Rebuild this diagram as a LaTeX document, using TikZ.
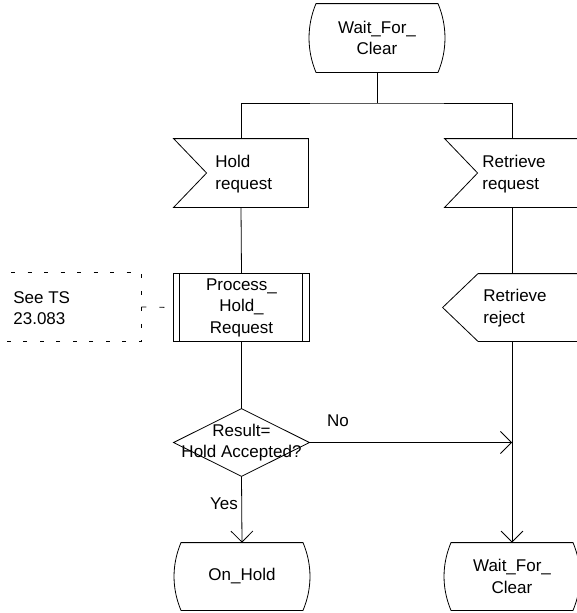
\documentclass[tikz,border=0pt]{standalone}
\usepackage{fontspec}
\setmainfont{Liberation Sans}
\usetikzlibrary{arrows.meta,calc}

% SDL state symbol: flat top and bottom, bulging sides
\newcommand\sdlstate[1]{%
  \draw ($(#1.north)+(-61,0)$) -- ($(#1.north)+(61,0)$)
    .. controls ($(#1.north)+(70.3,22)$) and ($(#1.south)+(70.3,-22)$) .. ($(#1.south)+(61,0)$)
    -- ($(#1.south)+(-61,0)$)
    .. controls ($(#1.south)+(-70.3,-22)$) and ($(#1.north)+(-70.3,22)$) .. ($(#1.north)+(-61,0)$) -- cycle;}

\begin{document}
\begin{tikzpicture}[x=1pt,y=-1pt,
  line width=0.8pt,
  txt/.style={font=\fontsize{17}{21.5}\selectfont, align=center, inner sep=0pt},
  ltxt/.style={font=\fontsize{17}{21.5}\selectfont, align=left, inner sep=0pt, anchor=west},
  frame/.style={draw=none, inner sep=0pt, minimum width=#1, minimum height=67pt},
  flow/.style={-{Straight Barb[length=11pt,width=22pt]}},
  note/.style={dash pattern=on 4pt off 12.5pt}]
\useasboundingbox (0,0) rectangle (577,613);

% states
\node[frame=136, minimum height=68pt, txt] (waitA) at (377,38) {Wait\_For\_\\Clear};
\sdlstate{waitA}
\node[frame=136, txt] (onhold) at (242,576.5) {On\_Hold};
\sdlstate{onhold}
\node[frame=136, txt] (waitB) at (512,576.5) {Wait\_For\_\\Clear};
\sdlstate{waitB}

% input signals
\node[frame=134, minimum height=68pt] (hold) at (241,173) {};
\draw (hold.north west) -- (hold.north east) -- (hold.south east) -- (hold.south west)
  -- ($(hold.west)+(33,0)$) -- cycle;
\node[ltxt] (holdtxt) at (215,174) {Hold\\request};

\node[frame=134, minimum height=68pt] (retr) at (512,173) {};
\draw (retr.north west) -- (retr.north east) -- (retr.south east) -- (retr.south west)
  -- ($(retr.west)+(33,0)$) -- cycle;
\node[ltxt] (retrtxt) at (482,174) {Retrieve\\request};

% output signal
\node[frame=138] (rej) at (512,307.5) {};
\draw (rej.west) -- ($(rej.north)+(-34,0)$) -- (rej.north east) -- (rej.south east)
  -- ($(rej.south)+(-34,0)$) -- cycle;
\node[ltxt] (rejtxt) at (483,308) {Retrieve\\reject};

% procedure call
\node[frame=135, txt] (proc) at (241.5,307.5) {Process\_\\Hold\_\\Request};
\draw (proc.north west) rectangle (proc.south east);
\draw ($(proc.north west)+(6,0)$) -- ($(proc.south west)+(6,0)$);
\draw ($(proc.north east)+(-7,0)$) -- ($(proc.south east)+(-7,0)$);

% comment
\node[frame=146, minimum height=68pt] (cmt) at (68,307) {};
\draw[note] (cmt.north west) -- (cmt.north east) -- (cmt.south east) -- (cmt.south west);
\node[ltxt] (cmttxt) at (13,308) {See TS\\23.083};
\draw[dash pattern=on 5pt off 13pt] (cmt.east) -- (proc.west);

% decision
\node[frame=135, txt] (dec) at (241.5,442.5) {Result=\\Hold Accepted?};
\draw (dec.west) -- (dec.north) -- (dec.east) -- (dec.south) -- cycle;

% connectors
\coordinate (split) at (377,103);
\draw (waitA.south) -- (split);
\draw (hold.north) |- (split) -| (retr.north);
\draw (hold.south) -- (proc.north);
\draw (proc.south) -- (dec.north);
\draw[flow] (dec.south) -- (onhold.north);
\draw (retr.south) -- (rej.north);
\draw[flow] (rej.south) -- (waitB.north);
\coordinate (join) at (waitB.north |- dec.east);
\draw[flow] (dec.east) -- (join);

% branch labels
\node[txt] (no) at (338,421) {No};
\node[txt] (yes) at (224,504) {Yes};
\end{tikzpicture}
\end{document}
